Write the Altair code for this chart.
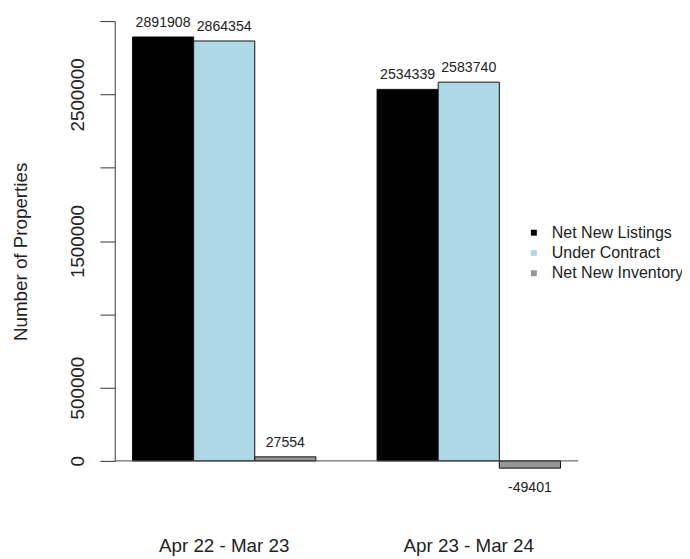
import altair as alt
import pandas as pd

periods = ["Apr 22 - Mar 23", "Apr 23 - Mar 24"]
series = ["Net New Listings", "Under Contract", "Net New Inventory"]
net_new_listings = [2891908, 2534339]
under_contract = [2864354, 2583740]
net_new_inventory = [27554, -49401]
colors = ["#000000", "#ADD8E6", "#969696"]
y_ticks = [0, 500000, 1000000, 1500000, 2000000, 2500000, 3000000]
y_labeled = [0, 500000, 1500000, 2500000]

rows = []
for i, p in enumerate(periods):
    for s, vals in zip(series, [net_new_listings, under_contract, net_new_inventory]):
        rows.append({"period": p, "series": s, "value": vals[i], "label": str(vals[i])})
df = pd.DataFrame(rows)

font = "Liberation Sans"

x_enc = alt.X("period:N", sort=periods,
              scale=alt.Scale(paddingInner=0.25, paddingOuter=0.0726),
              axis=alt.Axis(title=None, domain=False, ticks=False, labelAngle=0,
                            labelPadding=77, labelFontSize=19, labelFont=font,
                            labelColor="#222"))
xo_enc = alt.XOffset("series:N", sort=series,
                     scale=alt.Scale(paddingInner=0, paddingOuter=0))
y_enc = alt.Y("value:Q",
              scale=alt.Scale(domain=[0, 3000000], nice=False, zero=True),
              axis=alt.Axis(title="Number of Properties", values=y_ticks, format="d",
                            labelExpr="indexof([" + ",".join(str(v) for v in y_labeled) + "], datum.value) >= 0 ? datum.label : ''",
                            grid=False, tickSize=15, labelAngle=270, labelAlign="center",
                            labelBaseline="alphabetic", labelPadding=17,
                            labelFontSize=19, labelFont=font, labelColor="#222",
                            domainColor="#333", tickColor="#333",
                            titleFont=font, titleFontSize=19, titleFontWeight="normal",
                            titleColor="#222", titleAngle=270, titleAlign="center",
                            titleBaseline="middle", titleX=-95, titleY=233))

bars = alt.Chart(df).mark_bar(stroke="#111", strokeWidth=1).encode(
    x=x_enc, xOffset=xo_enc, y=y_enc,
    color=alt.Color("series:N", sort=series,
                    scale=alt.Scale(domain=series, range=colors),
                    legend=alt.Legend(title=None, orient="none", legendX=416, legendY=206,
                                      symbolType="square", symbolSize=36, symbolStrokeWidth=0,
                                      labelFont=font, labelFontSize=16.2, labelColor="#222",
                                      labelOffset=10, rowPadding=3.5, padding=0)),
)

pos_text = alt.Chart(df).transform_filter("datum.value >= 0").mark_text(
    font=font, fontSize=14.3, color="#222", baseline="middle", dy=-14
).encode(x=x_enc, xOffset=xo_enc, y=y_enc, text="label:N")

neg_text = alt.Chart(df).transform_filter("datum.value < 0").mark_text(
    font=font, fontSize=14.3, color="#222", baseline="middle", dy=20
).encode(x=x_enc, xOffset=xo_enc, y=y_enc, text="label:N")

base = alt.Chart(pd.DataFrame({"z": [0]})).mark_rule(color="#444", strokeWidth=1).encode(
    y=alt.Y("z:Q")
)

chart = alt.layer(bars, base, pos_text, neg_text).properties(
    width=469, height=445,
    autosize=alt.AutoSizeParams(type="none"),
    padding={"left": 108, "top": 10, "right": 105, "bottom": 96},
).configure_view(stroke=None)

chart.save("out.html", embed_options={"renderer": "svg", "actions": False})
